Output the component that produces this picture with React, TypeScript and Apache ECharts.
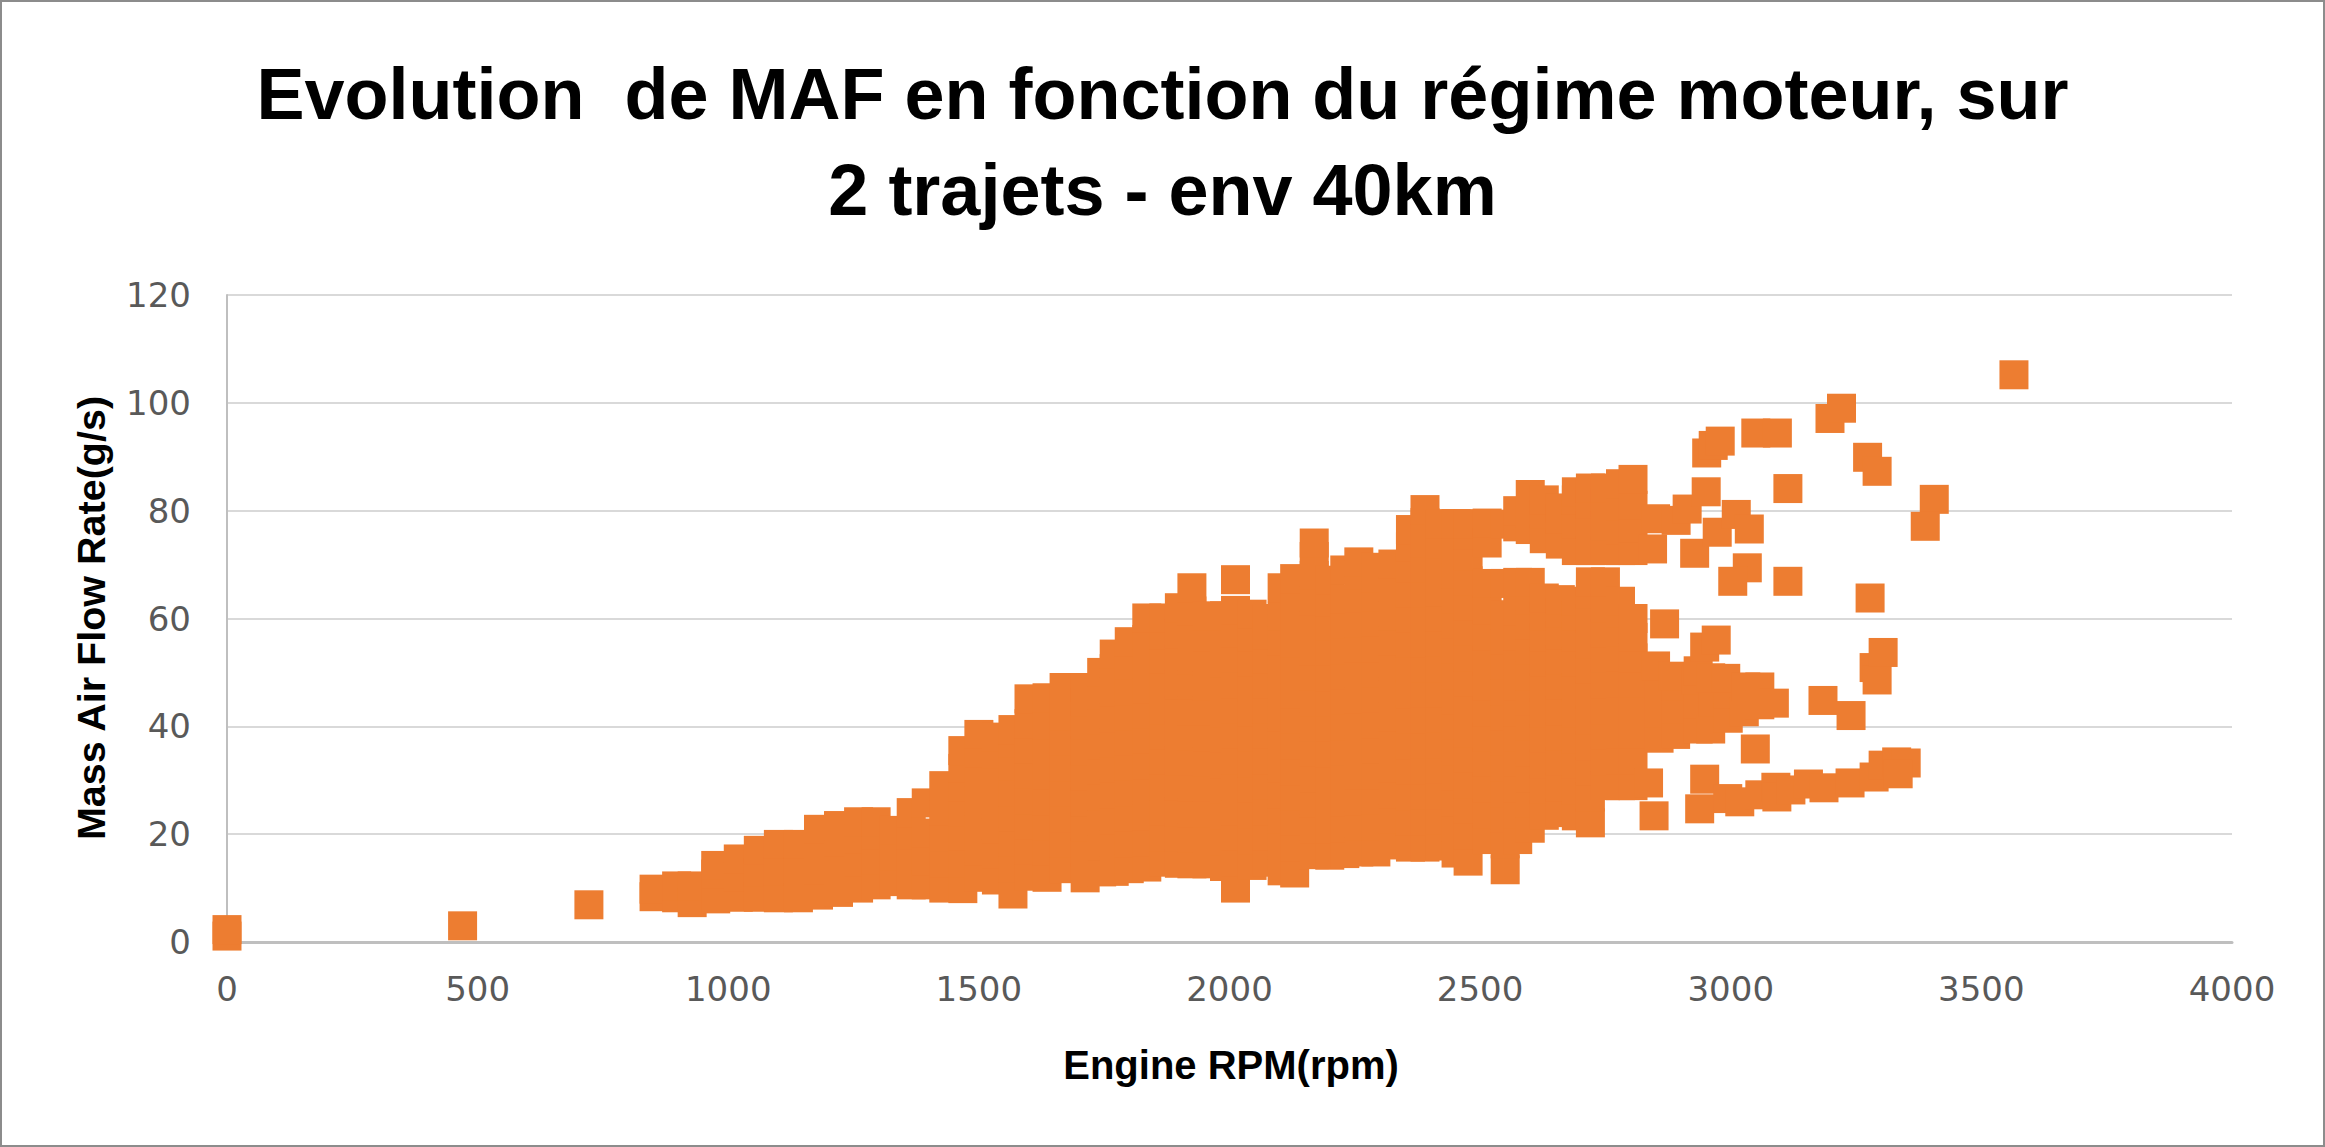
import * as echarts from "echarts"
import { useEffect, useRef } from "react"

const WIDTH = 2325
const HEIGHT = 1147

const titleLines = ["Evolution  de MAF en fonction du régime moteur, sur", "2 trajets - env 40km"]
const xAxisName = "Engine RPM(rpm)"
const yAxisName = "Mass Air Flow Rate(g/s)"

// engine stopped / idle readings
const idlePoints: [number, number][] = [
    [0, 1.1], [0, 2.3], [470, 3.0], [722, 6.9],
]

// dense cloud, read column by column: [rpm, MAF readings]
const cloudBelow1500: [number, number[]][] = [
    [852, [8.4, 9.8]],
    [897, [8.2, 10.4]],
    [928, [7.3, 10.4]],
    [975, [8.0, 12.6, 14.2]],
    [1020, [8.3, 12.1, 15.4]],
    [1060, [8.3, 12.9, 17.0]],
    [1100, [8.2, 13.1, 18.1]],
    [1140, [8.2, 13.0, 18.1]],
    [1180, [8.7, 13.4, 17.9, 20.9]],
    [1220, [9.2, 14.0, 18.6, 21.6]],
    [1260, [10.0, 14.8, 19.1, 22.3]],
    [1295, [10.6, 15.2, 19.8, 22.3]],
    [1330, [11.2, 15.9, 20.7]],
    [1365, [10.6, 15.3, 19.9, 24.0]],
    [1395, [10.6, 15.1, 20.2, 25.8]],
    [1430, [10.0, 14.6, 19.4, 24.3, 29.0]],
    [1468, [9.9, 14.7, 19.6, 24.1, 28.8, 32.2, 35.5]],
]

const cloud1500to2000: [number, number[]][] = [
    [1500, [12.0, 16.8, 21.3, 26.1, 30.7, 35.0, 38.5]],
    [1535, [11.5, 16.4, 21.0, 25.6, 30.4, 34.8, 38.0]],
    [1568, [8.9, 13.7, 18.5, 23.1, 27.9, 32.6, 36.9, 39.4]],
    [1600, [12.2, 17.0, 21.7, 26.4, 31.2, 35.8, 40.5, 45.1]],
    [1636, [12.0, 16.9, 21.5, 26.2, 30.9, 35.6, 40.3, 45.3]],
    [1670, [13.6, 18.3, 23.0, 27.8, 32.4, 37.2, 42.0, 47.2]],
    [1712, [11.9, 16.6, 21.4, 26.0, 30.8, 35.5, 40.2, 44.6, 47.2]],
    [1745, [13.0, 17.8, 22.5, 27.1, 31.9, 36.6, 41.2, 45.8, 50.0]],
    [1770, [13.1, 18.0, 22.7, 27.5, 32.2, 36.9, 41.6, 46.3, 50.7, 53.4]],
    [1800, [13.6, 18.4, 23.2, 27.9, 32.6, 37.3, 42.0, 46.6, 51.3, 55.7]],
    [1835, [13.9, 18.6, 23.4, 28.1, 32.9, 37.6, 42.3, 47.0, 51.6, 56.1, 60.1]],
    [1869, [14.8, 19.5, 24.3, 29.0, 33.8, 38.4, 43.1, 47.8, 52.5, 57.0, 60.1]],
    [1900, [14.6, 19.4, 24.1, 28.9, 33.6, 38.3, 43.0, 47.7, 52.4, 57.1, 62.0]],
    [1925, [14.5, 19.3, 24.0, 28.8, 33.5, 38.2, 42.9, 47.6, 52.3, 56.9, 61.4, 65.7]],
    [1955, [14.5, 19.2, 23.9, 28.7, 33.4, 38.1, 42.8, 47.5, 52.1, 56.6, 60.5]],
    [1990, [14.0, 18.8, 23.6, 28.3, 33.1, 37.8, 42.5, 47.2, 51.8, 56.4, 60.5]],
]

const cloud2000to2500: [number, number[]][] = [
    [2012, [10.0, 14.8, 19.6, 24.3, 29.0, 33.7, 38.5, 43.2, 47.9, 52.6, 57.3, 61.5, 67.2]],
    [2045, [14.2, 19.0, 23.8, 28.5, 33.2, 38.0, 42.6, 47.3, 52.0, 56.5, 60.8]],
    [2075, [14.8, 19.6, 24.3, 29.1, 33.8, 38.5, 43.2, 47.9, 52.5, 57.0, 60.0]],
    [2105, [13.2, 18.0, 22.8, 27.5, 32.3, 37.0, 41.7, 46.4, 51.1, 55.8, 60.4, 65.7]],
    [2130, [12.8, 17.6, 22.4, 27.1, 31.8, 36.6, 41.3, 46.0, 50.7, 55.4, 60.0, 64.3, 67.4]],
    [2169, [16.2, 21.0, 25.7, 30.5, 35.2, 39.9, 44.6, 49.3, 54.0, 58.7, 63.3, 68.0, 71.5, 74.0]],
    [2200, [16.1, 20.9, 25.6, 30.4, 35.1, 39.8, 44.5, 49.2, 53.9, 58.6, 63.1, 67.1]],
    [2230, [16.4, 21.2, 25.9, 30.7, 35.4, 40.1, 44.8, 49.5, 54.2, 58.9, 63.6, 69.0]],
    [2258, [16.7, 21.5, 26.2, 31.0, 35.7, 40.4, 45.1, 49.8, 54.5, 59.2, 63.8, 68.0, 70.5]],
    [2292, [16.7, 21.5, 26.3, 31.0, 35.8, 40.5, 45.2, 49.9, 54.6, 59.3, 63.9, 67.5, 69.5]],
    [2326, [18.0, 22.8, 27.5, 32.3, 37.0, 41.7, 46.4, 51.1, 55.8, 60.4, 65.0, 70.1]],
    [2361, [17.6, 22.4, 27.1, 31.9, 36.6, 41.3, 46.0, 50.7, 55.4, 60.1, 64.7, 69.3, 73.3, 76.5]],
    [2390, [17.6, 22.4, 27.2, 31.9, 36.7, 41.4, 46.1, 50.8, 55.5, 60.2, 64.8, 69.4, 74.0, 77.8, 80.2]],
    [2420, [17.8, 22.6, 27.3, 32.1, 36.8, 41.5, 46.2, 50.9, 55.6, 60.3, 64.9, 69.5, 73.9, 77.6]],
    [2452, [16.5, 21.3, 26.0, 30.8, 35.5, 40.2, 44.9, 49.6, 54.3, 59.0, 63.7, 68.3, 72.9, 77.6]],
    [2476, [15.0, 19.8, 24.6, 29.3, 34.1, 38.8, 43.5, 48.2, 52.9, 57.6, 62.3, 67.0, 71.6, 75.5, 77.6]],
]

const cloudAbove2500: [number, number[]][] = [
    [2514, [19.0, 23.8, 28.5, 33.3, 38.0, 42.7, 47.4, 52.1, 56.8, 61.5, 66.5, 74.0, 77.7]],
    [2550, [13.4, 18.2, 23.0, 27.7, 32.5, 37.2, 41.9, 46.6, 51.3, 56.0, 60.7, 66.5, 77.5]],
    [2575, [19.0, 23.8, 28.6, 33.3, 38.0, 42.7, 47.4, 52.1, 56.8, 61.4, 66.7, 77.0, 80.0]],
    [2600, [21.1, 25.8, 30.5, 35.2, 40.0, 44.7, 49.4, 54.1, 58.8, 63.5, 66.7, 76.5, 79.5, 83.0]],
    [2628, [23.5, 28.3, 33.0, 37.8, 42.5, 47.2, 51.9, 56.6, 60.5, 63.8, 74.8, 79.3, 82.0]],
    [2660, [24.0, 28.8, 33.5, 38.2, 42.9, 47.6, 52.3, 57.0, 61.0, 63.5, 73.8, 78.5, 80.5]],
    [2692, [23.4, 28.2, 33.0, 37.7, 42.5, 47.2, 51.9, 56.6, 60.5, 63.2, 72.6, 77.5, 82.0, 83.5]],
    [2720, [22.1, 26.9, 31.7, 36.4, 41.2, 45.9, 50.6, 55.3, 60.0, 64.5, 66.8, 72.6, 77.4, 81.2, 84.2]],
    [2750, [29.0, 33.6, 38.4, 43.1, 47.9, 52.6, 57.3, 62.0, 66.8, 72.6, 77.2, 81.5, 84.2]],
    [2780, [29.0, 33.8, 38.6, 43.3, 48.1, 52.8, 57.5, 61.0, 63.2, 72.6, 76.5, 80.8, 85.0]],
    [2805, [29.0, 33.8, 38.5, 43.3, 48.0, 52.7, 56.5, 60.0, 72.6, 76.8, 81.0, 85.8]],
]

// scattered readings beyond 2800 rpm
const highRpmPoints: [number, number][] = [
    [2844, 72.9], [2850, 78.5], [2868, 59.0], [2891, 78.2], [2913, 80.3], [2928, 72.1], [2951, 83.5],
    [2857, 37.8], [2857, 42.5], [2857, 47.2], [2850, 51.2],
    [2890, 38.5], [2890, 43.2], [2890, 47.5], [2885, 49.3],
    [2935, 39.5], [2935, 44.2], [2930, 48.6], [2935, 50.3],
    [2960, 39.5], [2965, 44.5], [2960, 49.0],
    [2948, 54.7], [2971, 56.0],
    [2995, 41.5], [2995, 46.0], [2990, 48.9],
    [3027, 42.7], [3030, 47.3], [3058, 44.0], [3058, 47.3], [3087, 44.3],
    [2973, 76.0], [3011, 79.3], [3037, 76.6], [3033, 69.4], [3004, 66.9], [3114, 66.9], [3114, 84.1],
    [3049, 35.8], [3184, 44.8], [3240, 42.0], [3278, 63.8], [3286, 50.9], [3292, 48.6], [3304, 53.7],
]

const lowerTailPoints: [number, number][] = [
    [2836, 29.5], [2847, 23.4], [2938, 24.7], [2948, 30.2], [2994, 26.6], [3018, 26.0],
    [3058, 27.3], [3090, 28.7], [3092, 26.9], [3120, 28.2], [3155, 29.3], [3186, 28.6],
    [3238, 29.5], [3286, 30.6], [3304, 32.8], [3331, 33.4], [3350, 33.2], [3334, 31.2],
]

const topPoints: [number, number][] = [
    [2952, 90.7], [2965, 92.1], [2979, 92.9], [3050, 94.4], [3093, 94.4], [3198, 97.1],
    [3221, 99.0], [3273, 89.9], [3292, 87.3], [3406, 82.1], [3388, 77.1], [3565, 105.2],
]

const fromColumns = (cols: [number, number[]][]) =>
    cols.flatMap(([rpm, values]) => values.map((v) => [rpm, v]))

const App: React.FC = () => {
    const ref = useRef<HTMLDivElement>(null)

    useEffect(() => {
        if (!ref.current) return
        const chart = echarts.init(ref.current, null, { renderer: "svg" })

        const data = [
            ...idlePoints,
            ...fromColumns(cloudBelow1500),
            ...fromColumns(cloud1500to2000),
            ...fromColumns(cloud2000to2500),
            ...fromColumns(cloudAbove2500),
            ...highRpmPoints,
            ...lowerTailPoints,
            ...topPoints,
        ]

        const tickLabel = {
            color: "#595959",
            fontFamily: "DejaVu Sans",
            fontSize: 34,
            formatter: (v: number) => String(v),
        }

        chart.setOption({
            animation: false,
            backgroundColor: "#ffffff",
            title: {
                text: titleLines.join("\n"),
                left: "center",
                top: 46,
                padding: 0,
                textStyle: {
                    fontFamily: "Liberation Sans",
                    fontWeight: "bold",
                    fontSize: 72,
                    lineHeight: 96,
                    color: "#000000",
                },
            },
            grid: { left: 227, right: 93, top: 295, bottom: 205 },
            xAxis: {
                type: "value",
                min: 0,
                max: 4000,
                interval: 500,
                axisLine: { show: true, onZero: false, lineStyle: { color: "#BFBFBF", width: 3 } },
                axisTick: { show: false },
                splitLine: { show: false },
                axisLabel: { ...tickLabel, margin: 30 },
            },
            yAxis: {
                type: "value",
                min: 0,
                max: 120,
                interval: 20,
                axisLine: { show: true, lineStyle: { color: "#BFBFBF", width: 2 } },
                axisTick: { show: false },
                splitLine: { lineStyle: { color: "#D9D9D9", width: 2 } },
                axisLabel: { ...tickLabel, margin: 36 },
            },
            graphic: [
                {
                    type: "rect",
                    shape: { x: 1, y: 1, width: WIDTH - 2, height: HEIGHT - 2 },
                    style: { fill: "none", stroke: "#8c8c8c", lineWidth: 2 },
                    silent: true,
                },
                {
                    type: "text",
                    x: 91,
                    y: 618,
                    rotation: Math.PI / 2,
                    style: {
                        text: yAxisName,
                        fontFamily: "Liberation Sans",
                        fontWeight: "bold",
                        fontSize: 39.5,
                        fill: "#000000",
                        align: "center",
                        verticalAlign: "middle",
                    },
                },
                {
                    type: "text",
                    x: 1231,
                    y: 1065,
                    style: {
                        text: xAxisName,
                        fontFamily: "Liberation Sans",
                        fontWeight: "bold",
                        fontSize: 40,
                        fill: "#000000",
                        align: "center",
                        verticalAlign: "middle",
                    },
                },
            ],
            series: [
                {
                    type: "scatter",
                    symbol: "rect",
                    symbolSize: 29,
                    clip: false,
                    itemStyle: { color: "#ED7D31", opacity: 1 },
                    data,
                },
            ],
        })

        return () => chart.dispose()
    }, [])

    return (
        <div
            ref={ref}
            style={{ position: "fixed", left: 0, top: 0, width: WIDTH, height: HEIGHT }}
        />
    )
}

export default App
